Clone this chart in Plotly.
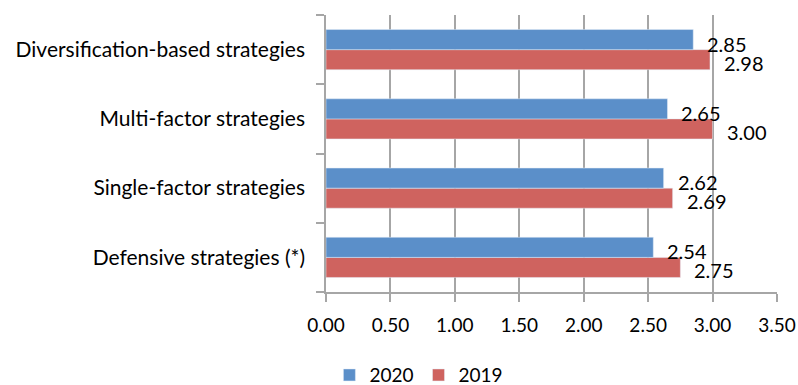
import plotly.graph_objects as go

# data
categories = ["Defensive strategies (*)", "Single-factor strategies",
              "Multi-factor strategies", "Diversification-based strategies"]
vals_2020 = [2.54, 2.62, 2.65, 2.85]
vals_2019 = [2.75, 2.69, 3.00, 2.98]
x_ticks = [0, 0.5, 1, 1.5, 2, 2.5, 3, 3.5]

BLUE = "#5B8FC9"
RED = "#CF635F"
FONT = "Lato"
GREY = "#A6A6A6"

fig = go.Figure()
# first trace of a horizontal group is drawn at the bottom, so 2019 goes first
fig.add_trace(go.Bar(y=categories, x=vals_2019, name="2019", orientation="h",
                     marker=dict(color=RED), showlegend=True))
fig.add_trace(go.Bar(y=categories, x=vals_2020, name="2020", orientation="h",
                     marker=dict(color=BLUE), showlegend=True))

# value labels right of each bar end
for i, cat in enumerate(categories):
    fig.add_annotation(x=vals_2020[i], y=cat, text=f"{vals_2020[i]:.2f}", showarrow=False,
                       xanchor="left", xshift=12, yshift=6, font=dict(size=20, color="black", family=FONT))
    fig.add_annotation(x=vals_2019[i], y=cat, text=f"{vals_2019[i]:.2f}", showarrow=False,
                       xanchor="left", xshift=12, yshift=-13, font=dict(size=20, color="black", family=FONT))

fig.update_layout(
    width=798, height=385,
    barmode="group", bargap=0.42, bargroupgap=0,
    plot_bgcolor="white", paper_bgcolor="white",
    margin=dict(l=326, r=21, t=15, b=93, autoexpand=False),
    font=dict(family=FONT, size=19, color="black"),
    xaxis=dict(range=[0, 3.5], tickvals=x_ticks, tickformat=".2f", automargin=False,
               showgrid=True, gridcolor=GREY, gridwidth=1.5,
               showline=True, linecolor=GREY, linewidth=1.5,
               ticks="outside", ticklen=8, tickcolor=GREY, tickwidth=1.5,
               ticklabelstandoff=7, zeroline=False, tickfont=dict(size=19)),
    yaxis=dict(showgrid=False, showline=True, linecolor=GREY, linewidth=1.5, automargin=False,
               ticks="outside", ticklen=8, tickcolor=GREY, tickwidth=1.5,
               tickson="boundaries", ticklabelstandoff=15, tickfont=dict(size=21)),
    legend=dict(orientation="h", x=0.206, xanchor="center", y=-0.3, yanchor="middle",
                traceorder="reversed", font=dict(size=19)),
)

# drop the default 8px body margin so the figure fills the window exactly
fig.write_html("out.html", config={"displayModeBar": False},
               post_script="document.body.style.margin='0';document.body.style.overflow='hidden';")
